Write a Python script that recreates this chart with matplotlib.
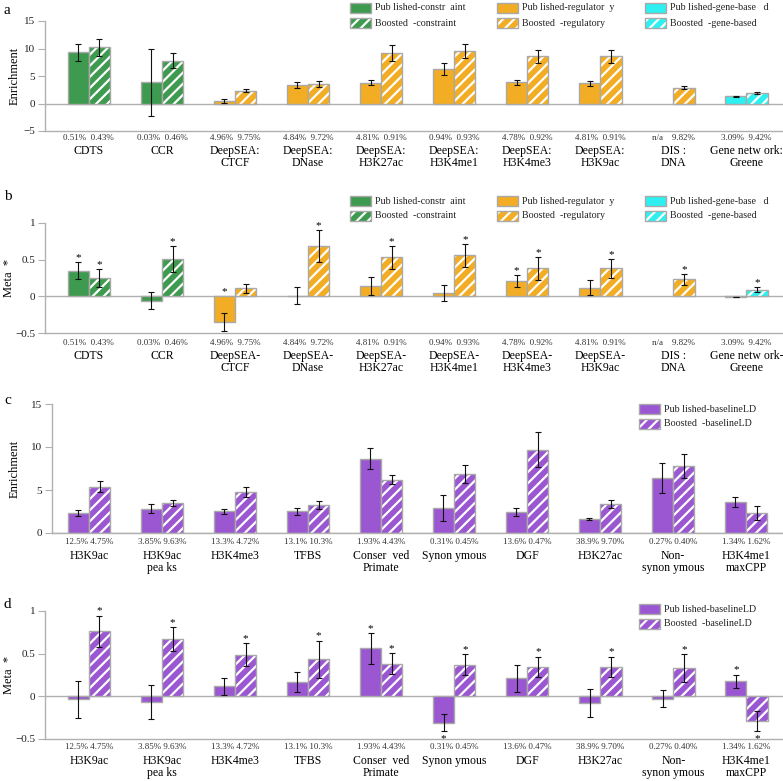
import numpy as np
import matplotlib
matplotlib.use("Agg")
import matplotlib.pyplot as plt
from matplotlib.patches import Rectangle
from matplotlib.transforms import blended_transform_factory

plt.rcParams['font.family'] = ['Liberation Serif', 'DejaVu Serif']
plt.rcParams['hatch.linewidth'] = 1.6

W, H = 783, 781

# ---------------- data ----------------
cats_ab_a = ["CDTS", "CCR", "DeepSEA:\nCTCF", "DeepSEA:\nDNase", "DeepSEA:\nH3K27ac",
             "DeepSEA:\nH3K4me1", "DeepSEA:\nH3K4me3", "DeepSEA:\nH3K9ac", "DIS :\nDNA",
             "Gene netw ork:\nGreene"]
cats_ab_b = ["CDTS", "CCR", "DeepSEA-\nCTCF", "DeepSEA-\nDNase", "DeepSEA-\nH3K27ac",
             "DeepSEA-\nH3K4me1", "DeepSEA-\nH3K4me3", "DeepSEA-\nH3K9ac", "DIS :\nDNA",
             "Gene netw ork-\nGreene"]
pct_ab = ["0.51%  0.43%", "0.03%  0.46%", "4.96%  9.75%", "4.84%  9.72%", "4.81%  0.91%",
          "0.94%  0.93%", "4.78%  0.92%", "4.81%  0.91%", "n/a    9.82%", "3.09%  9.42%"]
group_ab = ["constraint", "constraint", "regulatory", "regulatory", "regulatory",
            "regulatory", "regulatory", "regulatory", "regulatory", "gene"]

# panel a: enrichment
a_pub = [9.3, 3.9, 0.4, 3.35, 3.75, 6.2, 3.9, 3.65, np.nan, 1.33]
a_pub_err = [1.5, 6.1, 0.35, 0.55, 0.45, 1.1, 0.45, 0.4, np.nan, 0.1]
a_bst = [10.2, 7.8, 2.3, 3.6, 9.15, 9.6, 8.55, 8.55, 2.9, 1.94]
a_bst_err = [1.6, 1.3, 0.25, 0.55, 1.4, 1.3, 1.15, 1.15, 0.35, 0.2]

# panel b: meta tau*
b_pub = [0.35, -0.06, -0.35, 0.01, 0.14, 0.045, 0.21, 0.12, np.nan, -0.01]
b_pub_err = [0.115, 0.115, 0.12, 0.115, 0.12, 0.115, 0.08, 0.105, np.nan, 0.005]
b_bst = [0.25, 0.51, 0.11, 0.69, 0.53, 0.56, 0.38, 0.38, 0.23, 0.09]
b_bst_err = [0.12, 0.175, 0.06, 0.215, 0.155, 0.16, 0.16, 0.135, 0.075, 0.035]
b_pub_sig = [1, 0, 1, 0, 0, 0, 1, 0, 0, 0]
b_bst_sig = [1, 1, 0, 1, 1, 1, 1, 1, 1, 1]

cats_cd = ["H3K9ac", "H3K9ac\npea ks", "H3K4me3", "TFBS", "Conser  ved\nPrimate",
           "Synon ymous", "DGF", "H3K27ac", "Non-\nsynon ymous", "H3K4me1\nmaxCPP"]
pct_cd = ["12.5% 4.75%", "3.85% 9.63%", "13.3% 4.72%", "13.1% 10.3%", "1.93% 4.43%",
          "0.31% 0.45%", "13.6% 0.47%", "38.9% 9.70%", "0.27% 0.40%", "1.34% 1.62%"]

# panel c: enrichment baselineLD
c_pub = [2.36, 2.83, 2.52, 2.52, 8.64, 2.9, 2.44, 1.63, 6.43, 3.6]
c_pub_err = [0.35, 0.55, 0.27, 0.37, 1.24, 1.5, 0.47, 0.12, 1.75, 0.58]
c_bst = [5.39, 3.49, 4.77, 3.26, 6.2, 6.86, 9.69, 3.37, 7.79, 2.33]
c_bst_err = [0.65, 0.3, 0.55, 0.5, 0.55, 1.0, 2.03, 0.47, 1.45, 0.81]

# panel d: meta tau* baselineLD
d_pub = [-0.035, -0.07, 0.12, 0.163, 0.562, -0.31, 0.213, -0.078, -0.027, 0.174]
d_pub_err = [0.217, 0.2, 0.1, 0.118, 0.18, 0.1, 0.16, 0.16, 0.1, 0.08]
d_bst = [0.764, 0.667, 0.485, 0.434, 0.384, 0.372, 0.345, 0.345, 0.333, -0.287]
d_bst_err = [0.182, 0.14, 0.135, 0.22, 0.12, 0.12, 0.12, 0.12, 0.16, 0.116]
d_pub_sig = [0, 0, 0, 0, 1, -1, 0, 0, 0, 1]
d_bst_sig = [1, 1, 1, 1, 1, 1, 1, 1, 1, -1]

colors = {"constraint": "#3d9a4f", "regulatory": "#f2ad24", "gene": "#2ff0f0",
          "baseline": "#9b56d2"}
EDGE = "#a9a9a9"
AXC = "#b0b0b0"

# ---------------- helpers ----------------
fig = plt.figure(figsize=(W / 100, H / 100), dpi=100)


def add_axes_px(left, top_px, bottom_px):
    return fig.add_axes([left / W, 1 - bottom_px / H, 1 - left / W, (bottom_px - top_px) / H])


def draw_bars(ax, x, vals, cols, hatched):
    if hatched:
        ax.bar(x, vals, width=0.29, color=cols, edgecolor="white", hatch="///", linewidth=0, zorder=2)
        ax.bar(x, vals, width=0.29, fill=False, edgecolor=EDGE, linewidth=1.0, zorder=3)
    else:
        ax.bar(x, vals, width=0.29, color=cols, edgecolor=EDGE, linewidth=1.0, zorder=2)


def errs(ax, x, vals, err):
    ax.errorbar(x, vals, yerr=err, fmt="none", ecolor="#111111", elinewidth=0.8,
                capsize=2.2, capthick=0.8, zorder=4)


def stars(ax, x, vals, err, sig, pad_up, pad_dn):
    for xi, v, e, s in zip(x, vals, err, sig):
        if s == 1:
            y = max(v + e, 0) + pad_up
            ax.text(xi, y, "*", ha="center", va="center", fontsize=8, zorder=5)
        elif s == -1:
            y = v - e - pad_dn
            ax.text(xi, y, "*", ha="center", va="center", fontsize=8, zorder=5)


def style(ax, ylim, yticks, yticklabels, ylabel, xlim, label_x, top_px, bottom_px):
    ax.set_ylim(*ylim)
    ax.set_xlim(*xlim)
    ax.set_yticks(yticks)
    ax.set_yticklabels(yticklabels, fontsize=8, color="#222222")
    ax.set_xticks([])
    for s in ["top", "right"]:
        ax.spines[s].set_visible(False)
    ax.spines["left"].set_color(AXC)
    ax.spines["bottom"].set_color(AXC)
    ax.spines["left"].set_linewidth(1.0)
    ax.spines["bottom"].set_linewidth(1.0)
    ax.tick_params(axis="y", direction="out", length=5, width=0.8, color=AXC, pad=2)
    ax.axhline(0, color=AXC, lw=1.0, zorder=1)
    fig.text(label_x / W, 1 - (top_px + bottom_px) / 2 / H, ylabel, rotation=90,
             fontsize=9, ha="center", va="center")
    ax.patch.set_alpha(0)


def xlabels(ax, cats, pcts, bottom_px, height_px, pct_top_px, cat_top_px):
    tr = blended_transform_factory(ax.transData, ax.transAxes)
    for i, (c, p) in enumerate(zip(cats, pcts)):
        ax.text(i, (bottom_px - pct_top_px) / height_px, p, transform=tr, ha="center", va="top",
                fontsize=6.5, color="#333333", clip_on=False)
        ax.text(i, (bottom_px - cat_top_px) / height_px, c, transform=tr, ha="center", va="top",
                fontsize=8.5, linespacing=1.05, clip_on=False)


def legend_item(label, color, hatched, xp, xt, yc):
    x0, y0 = xp / W, 1 - (yc + 5) / H
    w, h = 21 / W, 10 / H
    if hatched:
        fig.add_artist(Rectangle((x0, y0), w, h, transform=fig.transFigure, facecolor=color,
                                 edgecolor="white", hatch="///", linewidth=0))
        fig.add_artist(Rectangle((x0, y0), w, h, transform=fig.transFigure, fill=False,
                                 edgecolor=EDGE, linewidth=1.0))
    else:
        fig.add_artist(Rectangle((x0, y0), w, h, transform=fig.transFigure, facecolor=color,
                                 edgecolor=EDGE, linewidth=1.0))
    fig.text(xt / W, 1 - yc / H, label, fontsize=7.2, va="center", ha="left", color="#222222")


x = np.arange(10)
xp = x - 0.145
xb = x + 0.145
cols_ab = [colors[g] for g in group_ab]

# ---------------- panel a ----------------
ta, ba = 21, 131
axa = add_axes_px(45, ta, ba)
style(axa, (-5, 15), [-5, 0, 5, 10, 15], ["\u22125", "0", "5", "10", "15"], "Enrichment",
      (-0.6, 9.5), 15, ta, ba)
draw_bars(axa, xp, a_pub, cols_ab, False)
draw_bars(axa, xb, a_bst, cols_ab, True)
errs(axa, xp, a_pub, a_pub_err)
errs(axa, xb, a_bst, a_bst_err)
xlabels(axa, cats_ab_a, pct_ab, ba, ba - ta, 134, 145)

# ---------------- panel b ----------------
tb, bb = 223, 333
axb = add_axes_px(45, tb, bb)
style(axb, (-0.5, 1), [-0.5, 0, 0.5, 1], ["\u22120.5", "0", "0.5", "1"], "Meta  *",
      (-0.6, 9.5), 9, tb, bb)
draw_bars(axb, xp, b_pub, cols_ab, False)
draw_bars(axb, xb, b_bst, cols_ab, True)
errs(axb, xp, b_pub, b_pub_err)
errs(axb, xb, b_bst, b_bst_err)
stars(axb, xp, b_pub, b_pub_err, b_pub_sig, 0.06, 0.1)
stars(axb, xb, b_bst, b_bst_err, b_bst_sig, 0.06, 0.1)
xlabels(axb, cats_ab_b, pct_ab, bb, bb - tb, 339, 350)

# ---------------- panel c ----------------
tc, bc = 404, 533
axc = add_axes_px(52, tc, bc)
style(axc, (0, 15), [0, 5, 10, 15], ["0", "5", "10", "15"], "Enrichment",
      (-0.507, 9.507), 15, tc, bc)
cb = [colors["baseline"]] * 10
draw_bars(axc, xp, c_pub, cb, False)
draw_bars(axc, xb, c_bst, cb, True)
errs(axc, xp, c_pub, c_pub_err)
errs(axc, xb, c_bst, c_bst_err)
xlabels(axc, cats_cd, pct_cd, bc, bc - tc, 538, 550)

# ---------------- panel d ----------------
td, bd = 611, 739
axd = add_axes_px(45, td, bd)
style(axd, (-0.5, 1), [-0.5, 0, 0.5, 1], ["\u22120.5", "0", "0.5", "1"], "Meta  *",
      (-0.6, 9.5), 9, td, bd)
draw_bars(axd, xp, d_pub, cb, False)
draw_bars(axd, xb, d_bst, cb, True)
errs(axd, xp, d_pub, d_pub_err)
errs(axd, xb, d_bst, d_bst_err)
stars(axd, xp, d_pub, d_pub_err, d_pub_sig, 0.055, 0.09)
stars(axd, xb, d_bst, d_bst_err, d_bst_sig, 0.055, 0.09)
xlabels(axd, cats_cd, pct_cd, bd, bd - td, 743, 755)

# ---------------- legends ----------------
leg_ab = [("Pub lished-constr  aint", colors["constraint"], False),
          ("Boosted  -constraint", colors["constraint"], True),
          ("Pub lished-regulator  y", colors["regulatory"], False),
          ("Boosted  -regulatory", colors["regulatory"], True),
          ("Pub lished-gene-base   d", colors["gene"], False),
          ("Boosted  -gene-based", colors["gene"], True)]
for yc1, yc2 in [(8, 23), (201, 216)]:
    for k, (lab, col, hat) in enumerate(leg_ab):
        xpch = [350, 497, 645][k // 2]
        yc = yc1 if k % 2 == 0 else yc2
        legend_item(lab, col, hat, xpch, xpch + 25, yc)

leg_cd = [("Pub lished-baselineLD", colors["baseline"], False),
          ("Boosted  -baselineLD", colors["baseline"], True)]
for yc1, yc2 in [(409, 424), (609, 624)]:
    for k, (lab, col, hat) in enumerate(leg_cd):
        yc = yc1 if k == 0 else yc2
        legend_item(lab, col, hat, 639, 664, yc)

# panel letters
for lab, ypx in [("a", 10), ("b", 197), ("c", 400), ("d", 605)]:
    fig.text(4 / W, 1 - ypx / H, lab, fontsize=11, va="center", ha="left")

fig.savefig("out.png", dpi=100)
